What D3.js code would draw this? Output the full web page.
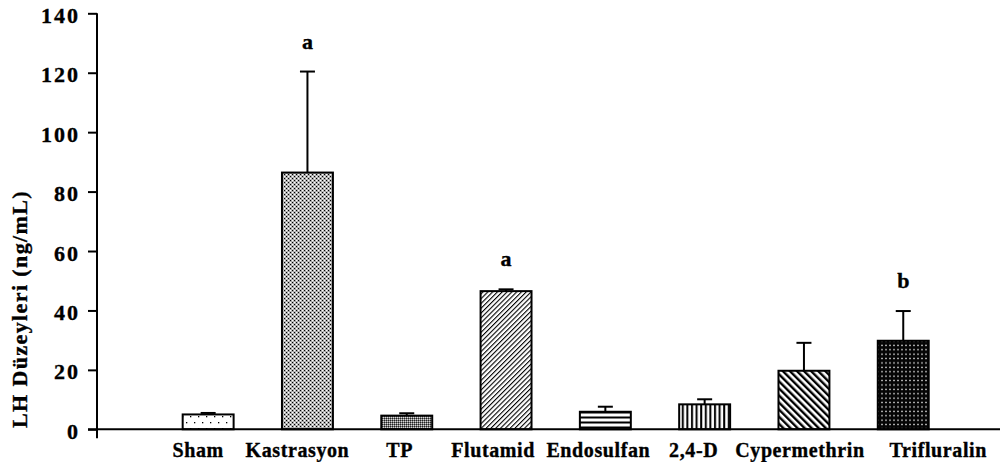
<!DOCTYPE html>
<html>
<head>
<meta charset="utf-8">
<title>LH levels</title>
<style>
body { margin: 0; background: #fff; }
text { font-family: "Liberation Serif", "Times New Roman", serif; font-weight: bold; fill: #000; stroke: #000; stroke-width: 0.35px; }
</style>
</head>
<body>
<div id="chart"></div>
<script src="https://cdn.jsdelivr.net/npm/d3@7"></script>
<script>
// data (mean +/- error, ng/mL)
var groups = ['Sham', 'Kastrasyon', 'TP', 'Flutamid', 'Endosulfan', '2,4-D', 'Cypermethrin', 'Trifluralin'];
var means = [5.0, 86.4, 4.6, 46.5, 5.9, 8.4, 19.7, 29.8];
var errors = [0.5, 34.0, 0.8, 0.6, 1.7, 1.7, 9.4, 10.0];
var letters = ['', 'a', '', 'a', '', '', '', 'b'];
var patterns = ['sparse', 'check', 'fine', 'diagUp', 'horiz', 'vert', 'diagDown', 'darkGrid'];
var yTicks = [0, 20, 40, 60, 80, 100, 120, 140];

// layout tweaks for the category labels (px, relative to bar centre)
var labelShift = [-10, -10, -7, -13, -7, -11, -4, 35];

var width = 1006, height = 462;
var axisX = 97;

var svg = d3.select('#chart').append('svg')
    .attr('width', width)
    .attr('height', height);

svg.append('rect').attr('width', width).attr('height', height).attr('fill', '#fff');

var y = d3.scaleLinear().domain([0, 140]).range([429.3, 13.3]);
var x = d3.scaleBand().domain(groups).range([158.5, 952.9])
    .paddingInner(0.487).paddingOuter(0.2435);

// fill patterns
var defs = svg.append('defs');

var p = defs.append('pattern').attr('id', 'sparse').attr('patternUnits', 'userSpaceOnUse')
    .attr('width', 8).attr('height', 12);
p.append('rect').attr('width', 8).attr('height', 12).attr('fill', '#fff');
p.append('rect').attr('x', 2).attr('y', 2).attr('width', 1.3).attr('height', 1.3).attr('fill', '#000');
p.append('rect').attr('x', 6).attr('y', 8).attr('width', 1.3).attr('height', 1.3).attr('fill', '#000');

p = defs.append('pattern').attr('id', 'check').attr('patternUnits', 'userSpaceOnUse')
    .attr('width', 4).attr('height', 4);
p.append('rect').attr('width', 4).attr('height', 4).attr('fill', '#a6a6a6');
p.append('rect').attr('x', 0).attr('y', 0).attr('width', 1.3).attr('height', 1.3).attr('fill', '#fff');
p.append('rect').attr('x', 2).attr('y', 2).attr('width', 1.3).attr('height', 1.3).attr('fill', '#fff');
p.append('rect').attr('x', 2).attr('y', 0).attr('width', 1).attr('height', 1).attr('fill', '#000');
p.append('rect').attr('x', 0).attr('y', 2).attr('width', 1).attr('height', 1).attr('fill', '#000');

p = defs.append('pattern').attr('id', 'fine').attr('patternUnits', 'userSpaceOnUse')
    .attr('width', 2).attr('height', 2);
p.append('rect').attr('width', 2).attr('height', 2).attr('fill', '#7a7a7a');
p.append('rect').attr('width', 1).attr('height', 1).attr('fill', '#222');
p.append('rect').attr('x', 1).attr('y', 1).attr('width', 1).attr('height', 1).attr('fill', '#d8d8d8');

p = defs.append('pattern').attr('id', 'diagUp').attr('patternUnits', 'userSpaceOnUse')
    .attr('width', 3.4).attr('height', 3.4).attr('patternTransform', 'rotate(45)');
p.append('rect').attr('width', 3.4).attr('height', 3.4).attr('fill', '#fff');
p.append('rect').attr('width', 1.1).attr('height', 3.4).attr('fill', '#000');

p = defs.append('pattern').attr('id', 'horiz').attr('patternUnits', 'userSpaceOnUse')
    .attr('width', 4).attr('height', 5);
p.append('rect').attr('width', 4).attr('height', 5).attr('fill', '#fff');
p.append('rect').attr('y', 1.5).attr('width', 4).attr('height', 2).attr('fill', '#000');

p = defs.append('pattern').attr('id', 'vert').attr('patternUnits', 'userSpaceOnUse')
    .attr('width', 4.6).attr('height', 4);
p.append('rect').attr('width', 4.6).attr('height', 4).attr('fill', '#fff');
p.append('rect').attr('x', 1).attr('width', 2).attr('height', 4).attr('fill', '#000');

p = defs.append('pattern').attr('id', 'diagDown').attr('patternUnits', 'userSpaceOnUse')
    .attr('width', 5).attr('height', 5).attr('patternTransform', 'rotate(-45)');
p.append('rect').attr('width', 5).attr('height', 5).attr('fill', '#fff');
p.append('rect').attr('width', 2.4).attr('height', 5).attr('fill', '#000');

p = defs.append('pattern').attr('id', 'darkGrid').attr('patternUnits', 'userSpaceOnUse')
    .attr('width', 4).attr('height', 4.4);
p.append('rect').attr('width', 4).attr('height', 4.4).attr('fill', '#050505');
p.append('rect').attr('x', 1).attr('y', 1.5).attr('width', 2).attr('height', 1.3).attr('fill', '#b5b5b5');

// y axis
var yAxis = svg.append('g')
    .attr('transform', 'translate(' + axisX + ',0)')
    .call(d3.axisLeft(y).tickValues(yTicks).tickSize(9).tickPadding(8).tickFormat(d3.format('d')));
yAxis.select('.domain').remove();
yAxis.selectAll('.tick line').attr('stroke', '#000').attr('stroke-width', 2);
yAxis.selectAll('.tick text')
    .attr('dy', null).attr('y', 9)
    .style('font-size', '22px').style('letter-spacing', '2px')
    .style('font-family', '"Liberation Serif", "Times New Roman", serif').style('font-weight', 'bold');

svg.append('line')
    .attr('x1', axisX).attr('x2', axisX)
    .attr('y1', y(140)).attr('y2', y(0) + 9)
    .attr('stroke', '#000').attr('stroke-width', 2);

svg.append('text')
    .attr('transform', 'translate(27,' + 309 + ') rotate(-90)')
    .attr('text-anchor', 'middle')
    .style('font-size', '22px')
    .style('letter-spacing', '1.4px')
    .text('LH Düzeyleri (ng/mL)');

// bars
var rows = groups.map(function (g, i) {
  return { name: g, mean: means[i], err: errors[i], letter: letters[i], fill: patterns[i], shift: labelShift[i] };
});

svg.selectAll('rect.bar')
  .data(rows)
  .enter()
  .append('rect')
    .attr('class', 'bar')
    .attr('x', function (d) { return x(d.name); })
    .attr('y', function (d) { return y(d.mean); })
    .attr('width', x.bandwidth())
    .attr('height', function (d) { return y(0) - y(d.mean); })
    .attr('fill', function (d) { return 'url(#' + d.fill + ')'; })
    .attr('stroke', '#000')
    .attr('stroke-width', 2);

// error bars (upper only)
var eb = svg.selectAll('g.err')
  .data(rows)
  .enter()
  .append('g')
    .attr('class', 'err')
    .attr('transform', function (d) { return 'translate(' + (x(d.name) + x.bandwidth() / 2) + ',0)'; });
eb.append('line')
    .attr('y1', function (d) { return y(d.mean); })
    .attr('y2', function (d) { return y(d.mean + d.err); })
    .attr('stroke', '#000').attr('stroke-width', 2);
eb.append('line')
    .attr('x1', -7.5).attr('x2', 7.5)
    .attr('y1', function (d) { return y(d.mean + d.err); })
    .attr('y2', function (d) { return y(d.mean + d.err); })
    .attr('stroke', '#000').attr('stroke-width', 2);

// significance letters
svg.selectAll('text.sig')
  .data(rows.filter(function (d) { return d.letter; }))
  .enter()
  .append('text')
    .attr('class', 'sig')
    .attr('x', function (d) { return x(d.name) + x.bandwidth() / 2; })
    .attr('y', function (d) { return y(d.mean + d.err) - 23; })
    .attr('text-anchor', 'middle')
    .style('font-size', '22px')
    .text(function (d) { return d.letter; });

// x axis baseline
svg.append('line')
    .attr('x1', axisX - 9).attr('x2', 1000)
    .attr('y1', y(0)).attr('y2', y(0))
    .attr('stroke', '#000').attr('stroke-width', 2);

// category labels
svg.selectAll('text.cat')
  .data(rows)
  .enter()
  .append('text')
    .attr('class', 'cat')
    .attr('x', function (d) { return x(d.name) + x.bandwidth() / 2 + d.shift; })
    .attr('y', 456.5)
    .attr('text-anchor', 'middle')
    .style('font-size', '20px')
    .style('letter-spacing', '0.6px')
    .text(function (d) { return d.name; });
</script>
</body>
</html>
